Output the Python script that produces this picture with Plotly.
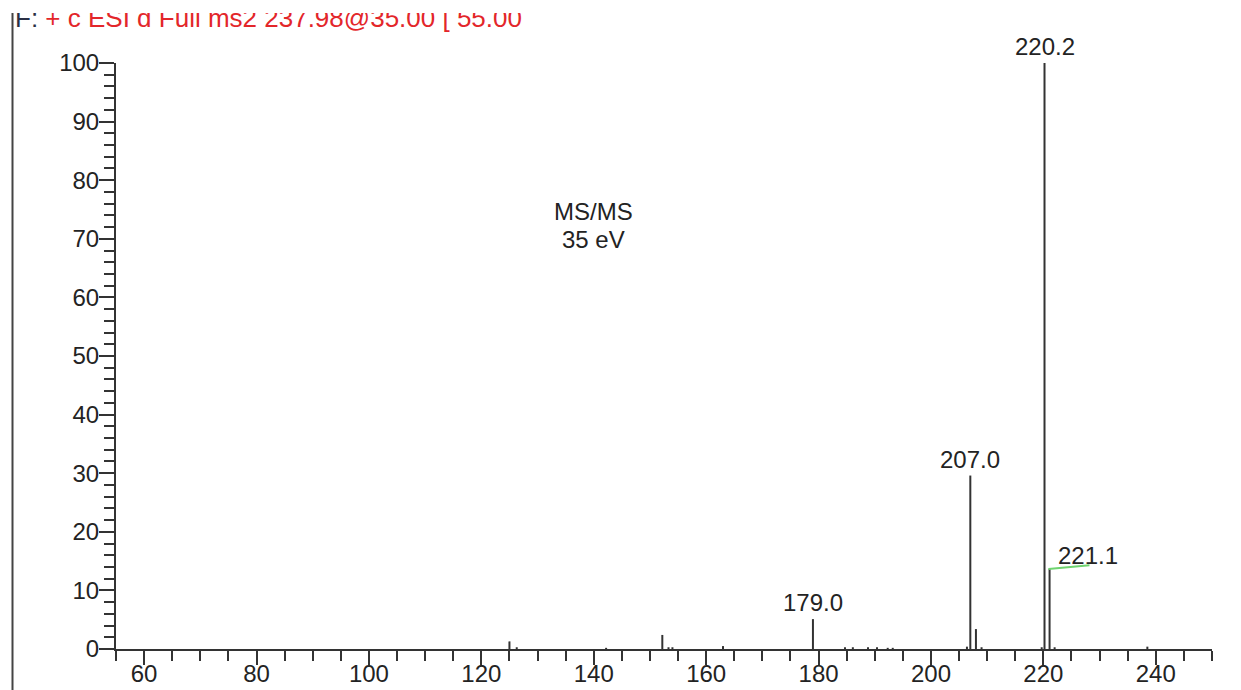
import plotly.graph_objects as go

# m/z values and relative intensities (%) of the MS/MS spectrum
mz = [125.0, 126.3, 142.2, 152.2, 153.3, 154.0, 163.0, 179.0,
      184.7, 186.1, 188.8, 190.4, 192.3, 193.2,
      206.4, 207.0, 208.0, 209.0, 219.7, 220.2, 221.1, 222.0, 238.5]
intensity = [1.3, 0.3, 0.2, 2.4, 0.3, 0.3, 0.5, 5.1,
             0.3, 0.3, 0.3, 0.3, 0.2, 0.2,
             0.4, 29.6, 3.4, 0.3, 0.3, 100.0, 13.7, 0.3, 0.4]

# labelled peaks
label_mz = [179.0, 207.0, 220.2]
label_int = [5.1, 29.6, 100.0]
label_text = ["179.0", "207.0", "220.2"]

side_label_mz = 227.9
side_label_int = 13.7
side_label_text = "221.1"
marker_x = [220.9, 228.2]
marker_y = [13.65, 14.3]

header_dark = "F:"
header_red = "+ c ESI d Full ms2 237.98@35.00 [ 55.00"
note_lines = ["MS/MS", "35 eV"]
note_x = 139.9
note_y = [74.7, 69.8]

x_range = [55, 250]
y_range = [0, 100]
x_ticks = [60, 80, 100, 120, 140, 160, 180, 200, 220, 240]
y_ticks = [0, 10, 20, 30, 40, 50, 60, 70, 80, 90, 100]

# Build stick coordinates from data
xs, ys = [], []
for m, h in zip(mz, intensity):
    xs += [m, m, None]
    ys += [0, h, None]

FONT = "Liberation Sans, Arial, sans-serif"
INK = "#232323"
AX = "#333333"

W, H = 1241, 690
ML, MR, MT, MB = 116, 29, 63, 41
PW, PH = W - ML - MR, H - MT - MB


def px_to_paper(px, py):
    return (px - ML) / PW, (H - MB - py) / PH


fig = go.Figure()
fig.add_trace(go.Scatter(x=xs, y=ys, mode="lines",
                         line=dict(color="#333333", width=2),
                         hoverinfo="skip", showlegend=False))
fig.add_trace(go.Scatter(x=marker_x, y=marker_y, mode="lines",
                         line=dict(color="#6fd46f", width=2),
                         hoverinfo="skip", showlegend=False))

for m, h, t in zip(label_mz, label_int, label_text):
    fig.add_annotation(x=m, y=h, text=t, showarrow=False, yanchor="bottom",
                       yshift=1, font=dict(family=FONT, size=24, color=INK))
fig.add_annotation(x=side_label_mz, y=side_label_int, text=side_label_text,
                   showarrow=False, yanchor="bottom", yshift=-2,
                   font=dict(family=FONT, size=24, color=INK))

for txt, yy in zip(note_lines, note_y):
    fig.add_annotation(x=note_x, y=yy, text=txt, showarrow=False,
                       yanchor="middle", font=dict(family=FONT, size=24, color=INK))

# header line (top of it clipped like the reference)
hx, hy = px_to_paper(13, 29)
fig.add_annotation(xref="paper", yref="paper", x=hx, y=hy,
                   xanchor="left", yanchor="bottom", yshift=-6, showarrow=False,
                   text=f"<span style='color:#2a2f45'>{header_dark}</span> "
                        f"<span style='color:#e3262a'>{header_red}</span>",
                   font=dict(family=FONT, size=26))
cx, cy = px_to_paper(0, 0)
fig.add_annotation(xref="paper", yref="paper", x=cx, y=cy,
                   xanchor="left", yanchor="top", showarrow=False, text="",
                   width=700, height=13, bgcolor="white", borderpad=0,
                   borderwidth=0)

# left border line of the page
lx0, ly0 = px_to_paper(12.5, 13)
lx1, ly1 = px_to_paper(12.5, 700)
fig.add_shape(type="line", xref="paper", yref="paper",
              x0=lx0, x1=lx1, y0=ly0, y1=ly1,
              line=dict(color="#444444", width=2))

fig.update_xaxes(range=x_range, tickvals=x_ticks, ticks="outside", ticklen=14,
                 tickwidth=2, tickcolor=AX, showline=True, linecolor=AX,
                 linewidth=2, showgrid=False, zeroline=False, automargin=False,
                 ticklabelstandoff=-12,
                 tickfont=dict(family=FONT, size=24, color=INK),
                 minor=dict(dtick=5, tick0=55, ticks="outside", ticklen=10,
                            tickwidth=2, tickcolor=AX, showgrid=False))
fig.update_yaxes(range=y_range, tickvals=y_ticks, ticks="outside", ticklen=15,
                 tickwidth=2, tickcolor=AX, showline=True, linecolor=AX,
                 linewidth=2, showgrid=False, zeroline=False, automargin=False,
                 ticklabelstandoff=-5,
                 tickfont=dict(family=FONT, size=24, color=INK),
                 minor=dict(dtick=2, tick0=0, ticks="outside", ticklen=10,
                            tickwidth=2, tickcolor=AX, showgrid=False))

fig.update_layout(width=W, height=H,
                  margin=dict(l=ML, r=MR, t=MT, b=MB, autoexpand=False),
                  plot_bgcolor="white", paper_bgcolor="white",
                  showlegend=False)

fig.write_html("out.html", config={"displayModeBar": False},
               post_script="document.body.style.margin='0px';"
                           "document.body.style.overflow='hidden';")
